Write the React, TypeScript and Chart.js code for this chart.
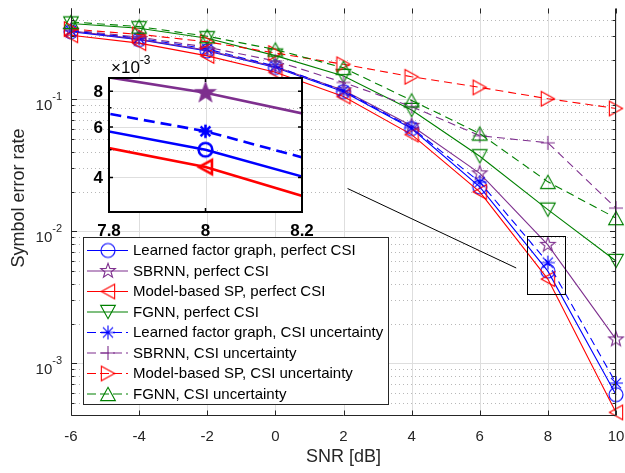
import React, { useEffect, useRef } from "react";
import { Chart, registerables } from "chart.js";
Chart.register(...registerables);

// ---------- data ----------
const snr = [-6, -4, -2, 0, 2, 4, 6, 8, 10];
const lfgPerfect = [0.325, 0.283, 0.232, 0.174, 0.114, 0.06, 0.0217, 0.005, 0.00058];
const sbrnnPerfect = [0.33, 0.285, 0.235, 0.176, 0.117, 0.063, 0.0275, 0.0079, 0.00152];
const mbspPerfect = [0.305, 0.266, 0.213, 0.16, 0.105, 0.054, 0.0199, 0.00435, 0.000426];
const fgnnPerfect = [0.375, 0.345, 0.29, 0.214, 0.15, 0.083, 0.037, 0.0146, 0.00596];
const lfgUncertain = [0.33, 0.29, 0.24, 0.178, 0.116, 0.061, 0.0236, 0.0058, 0.00071];
const sbrnnUncertain = [0.335, 0.295, 0.248, 0.195, 0.134, 0.088, 0.053, 0.0468, 0.015];
const mbspUncertain = [0.34, 0.31, 0.272, 0.224, 0.184, 0.148, 0.123, 0.101, 0.0852];
const fgnnUncertain = [0.385, 0.355, 0.3, 0.238, 0.173, 0.098, 0.055, 0.0237, 0.0126];

const seriesLabels = [
  "Learned factor graph, perfect CSI",
  "SBRNN, perfect CSI",
  "Model-based SP, perfect CSI",
  "FGNN, perfect CSI",
  "Learned factor graph, CSI uncertainty",
  "SBRNN, CSI uncertainty",
  "Model-based SP, CSI uncertainty",
  "FGNN, CSI uncertainty",
];
const seriesValues = [
  lfgPerfect, sbrnnPerfect, mbspPerfect, fgnnPerfect,
  lfgUncertain, sbrnnUncertain, mbspUncertain, fgnnUncertain,
];
const seriesColors = ["#0000ff", "#7e2f8e", "#ff0000", "#008000", "#0000ff", "#7e2f8e", "#ff0000", "#008000"];
const seriesDashed = [false, false, false, false, true, true, true, true];
const seriesMarkers = ["circle", "pentagram", "triLeft", "triDown", "asterisk", "plus", "triRight", "triUp"];

const xTicks = [-6, -4, -2, 0, 2, 4, 6, 8, 10];
const xTickLabels = ["-6", "-4", "-2", "0", "2", "4", "6", "8", "10"];
const yMajorTicks = [1e-3, 1e-2, 1e-1];
const yTickExponents = ["-3", "-2", "-1"];
const xTitle = "SNR [dB]";
const yTitle = "Symbol error rate";

const insetXTicks = [7.8, 8, 8.2];
const insetXTickLabels = ["7.8", "8", "8.2"];
const insetYTicks = [4e-3, 6e-3, 8e-3];
const insetYTickLabels = ["4", "6", "8"];
const insetYMinor = [3e-3, 5e-3, 7e-3, 9e-3];
const insetExponent = "-3";

// zoom box and connector (data coordinates)
const zoomBoxX = [7.38, 8.51];
const zoomBoxY = [3.35e-3, 9.2e-3];
const connectorX = [2.12, 7.07];
const connectorY = [0.0211, 0.00528];

const FONT = "'Liberation Sans', Arial, Helvetica, sans-serif";
const AXIS_COLOR = "#262626";

function makeMarker(kind: string, color: string, r: number, lw: number, fill: boolean) {
  const size = Math.ceil(2 * r + lw + 6);
  const c = document.createElement("canvas");
  c.width = size;
  c.height = size;
  const g = c.getContext("2d")!;
  const cx = size / 2, cy = size / 2;
  g.strokeStyle = color;
  g.fillStyle = color;
  g.lineWidth = lw;
  g.lineJoin = "miter";
  g.beginPath();
  const w = r * 1.05, h = r * 0.95;
  switch (kind) {
    case "circle":
      g.arc(cx, cy, r, 0, Math.PI * 2);
      break;
    case "pentagram":
      for (let k = 0; k < 10; k++) {
        const rr = k % 2 === 0 ? r * 1.1 : r * 0.45;
        const a = -Math.PI / 2 + (k * Math.PI) / 5;
        const px = cx + rr * Math.cos(a), py = cy + rr * Math.sin(a);
        if (k === 0) g.moveTo(px, py); else g.lineTo(px, py);
      }
      g.closePath();
      break;
    case "triUp":
      g.moveTo(cx, cy - h); g.lineTo(cx + w, cy + h); g.lineTo(cx - w, cy + h); g.closePath();
      break;
    case "triDown":
      g.moveTo(cx, cy + h); g.lineTo(cx + w, cy - h); g.lineTo(cx - w, cy - h); g.closePath();
      break;
    case "triLeft":
      g.moveTo(cx - h, cy); g.lineTo(cx + h, cy - w); g.lineTo(cx + h, cy + w); g.closePath();
      break;
    case "triRight":
      g.moveTo(cx + h, cy); g.lineTo(cx - h, cy - w); g.lineTo(cx - h, cy + w); g.closePath();
      break;
    case "asterisk": {
      const d = r * 0.72;
      g.moveTo(cx - r, cy); g.lineTo(cx + r, cy);
      g.moveTo(cx, cy - r); g.lineTo(cx, cy + r);
      g.moveTo(cx - d, cy - d); g.lineTo(cx + d, cy + d);
      g.moveTo(cx - d, cy + d); g.lineTo(cx + d, cy - d);
      break;
    }
    case "plus":
      g.moveTo(cx - r, cy); g.lineTo(cx + r, cy);
      g.moveTo(cx, cy - r); g.lineTo(cx, cy + r);
      break;
  }
  if (fill) g.fill();
  g.stroke();
  return c;
}

function buildDatasets(markers: HTMLCanvasElement[], inset: boolean) {
  return seriesValues.map((vals, i) => ({
    label: seriesLabels[i],
    data: snr.map((x, j) => ({ x, y: vals[j] })),
    borderColor: seriesColors[i],
    backgroundColor: seriesColors[i],
    borderWidth: inset ? 2.6 : 1.1,
    borderDash: seriesDashed[i] ? (inset ? [11, 6] : [8, 5]) : [],
    pointStyle: markers[i] as any,
    pointRadius: 7,
    pointHoverRadius: 7,
    tension: 0,
    fill: false,
    clip: inset ? 0 : (false as any),
    order: seriesValues.length - i,
  }));
}

function crisp(v: number) {
  return Math.round(v) + 0.5;
}

export default function App() {
  const mainRef = useRef<HTMLCanvasElement>(null);
  const insetRef = useRef<HTMLCanvasElement>(null);

  useEffect(() => {
    document.body.style.margin = "0";
    const mainMarkers = seriesMarkers.map((m, i) => makeMarker(m, seriesColors[i], 7, 1.1, false));
    const insetMarkers = seriesMarkers.map((m, i) =>
      makeMarker(m, seriesColors[i], m === "pentagram" ? 7.5 : 6.8, 2.6, m === "pentagram")
    );

    const mainDecor = {
      id: "mainDecor",
      beforeDraw(chart: any) {
        const ctx = chart.ctx;
        ctx.save();
        ctx.fillStyle = "#ffffff";
        ctx.fillRect(0, 0, chart.width, chart.height);
        ctx.restore();
      },
      beforeDatasetsDraw(chart: any) {
        const { ctx, chartArea: a, scales } = chart;
        const xs = scales.x, ys = scales.y;
        ctx.save();
        ctx.strokeStyle = "#dedede";
        ctx.lineWidth = 1;
        xTicks.forEach((t) => {
          const px = crisp(xs.getPixelForValue(t));
          ctx.beginPath(); ctx.moveTo(px, a.top); ctx.lineTo(px, a.bottom); ctx.stroke();
        });
        for (let e = -4; e <= -1; e++) {
          for (let m = 1; m <= 9; m++) {
            const v = m * Math.pow(10, e);
            if (v <= ys.min * 1.0001 || v >= ys.max) continue;
            const py = crisp(ys.getPixelForValue(v));
            ctx.beginPath();
            if (m === 1) {
              ctx.setLineDash([]);
              ctx.strokeStyle = "#dedede";
            } else {
              ctx.setLineDash([1, 3]);
              ctx.strokeStyle = "#b8b8b8";
            }
            ctx.moveTo(a.left, py); ctx.lineTo(a.right, py); ctx.stroke();
          }
        }
        ctx.restore();
      },
      afterDatasetsDraw(chart: any) {
        const { ctx, chartArea: a, scales } = chart;
        const xs = scales.x, ys = scales.y;
        ctx.save();
        ctx.strokeStyle = AXIS_COLOR;
        ctx.lineWidth = 1;
        ctx.setLineDash([]);
        const L = crisp(a.left), R = crisp(a.right) - 1, T = crisp(a.top), B = crisp(a.bottom) - 1;
        ctx.beginPath();
        ctx.moveTo(L, T); ctx.lineTo(L, B); ctx.lineTo(R, B); ctx.lineTo(R, T);
        ctx.stroke();
        xTicks.forEach((t) => {
          const px = crisp(xs.getPixelForValue(t));
          ctx.beginPath();
          ctx.moveTo(px, B); ctx.lineTo(px, B - 5);
          ctx.moveTo(px, T); ctx.lineTo(px, T + 5);
          ctx.stroke();
        });
        for (let e = -4; e <= -1; e++) {
          for (let m = 1; m <= 9; m++) {
            const v = m * Math.pow(10, e);
            if (v <= ys.min * 1.0001 || v >= ys.max) continue;
            const py = crisp(ys.getPixelForValue(v));
            const len = m === 1 ? 5.5 : 3;
            ctx.beginPath();
            ctx.moveTo(L, py); ctx.lineTo(L + len, py);
            ctx.moveTo(R, py); ctx.lineTo(R - len, py);
            ctx.stroke();
          }
        }
        ctx.fillStyle = AXIS_COLOR;
        ctx.font = `15px ${FONT}`;
        ctx.textAlign = "center";
        ctx.textBaseline = "middle";
        xTicks.forEach((t, i) => {
          ctx.fillText(xTickLabels[i], xs.getPixelForValue(t), 437);
        });
        yMajorTicks.forEach((t, i) => {
          const py = ys.getPixelForValue(t);
          ctx.textBaseline = "alphabetic";
          ctx.textAlign = "left";
          ctx.font = `11px ${FONT}`;
          const sw = ctx.measureText(yTickExponents[i]).width;
          ctx.font = `15px ${FONT}`;
          const bw = ctx.measureText("10").width;
          const right = 62;
          ctx.fillText("10", right - sw - bw, py + 10.5);
          ctx.font = `11px ${FONT}`;
          ctx.fillText(yTickExponents[i], right - sw, py + 1);
        });
        ctx.font = `18px ${FONT}`;
        ctx.textAlign = "center";
        ctx.textBaseline = "middle";
        ctx.fillText(xTitle, (a.left + a.right) / 2, 457);
        ctx.save();
        ctx.translate(19, 198);
        ctx.rotate(-Math.PI / 2);
        ctx.fillText(yTitle, 0, 0);
        ctx.restore();
        ctx.strokeStyle = "#000000";
        ctx.lineWidth = 1;
        const bx0 = crisp(xs.getPixelForValue(zoomBoxX[0]));
        const bx1 = crisp(xs.getPixelForValue(zoomBoxX[1]));
        const by0 = crisp(ys.getPixelForValue(zoomBoxY[1]));
        const by1 = crisp(ys.getPixelForValue(zoomBoxY[0]));
        ctx.strokeRect(bx0, by0, bx1 - bx0, by1 - by0);
        ctx.beginPath();
        ctx.moveTo(xs.getPixelForValue(connectorX[0]), ys.getPixelForValue(connectorY[0]));
        ctx.lineTo(xs.getPixelForValue(connectorX[1]), ys.getPixelForValue(connectorY[1]));
        ctx.stroke();
        const lx0 = 83.5, lx1 = 388.5, ly0 = 237.5, ly1 = 404.5;
        ctx.fillStyle = "#ffffff";
        ctx.fillRect(lx0, ly0, lx1 - lx0, ly1 - ly0);
        ctx.strokeStyle = AXIS_COLOR;
        ctx.strokeRect(lx0, ly0, lx1 - lx0, ly1 - ly0);
        ctx.font = `15px ${FONT}`;
        ctx.textAlign = "left";
        ctx.textBaseline = "middle";
        seriesLabels.forEach((lab, i) => {
          const yc = 250.5 + i * 20.5;
          ctx.strokeStyle = seriesColors[i];
          ctx.lineWidth = 1.1;
          ctx.setLineDash(seriesDashed[i] ? [9, 4] : []);
          ctx.beginPath();
          ctx.moveTo(87, yc); ctx.lineTo(128, yc); ctx.stroke();
          ctx.setLineDash([]);
          const mk = mainMarkers[i];
          ctx.drawImage(mk, 108 - mk.width / 2, yc - mk.height / 2);
          ctx.fillStyle = "#000000";
          ctx.fillText(lab, 133, yc + 0.5);
        });
        ctx.restore();
      },
    };

    const insetDecor = {
      id: "insetDecor",
      beforeDatasetsDraw(chart: any) {
        const { ctx, chartArea: a, scales } = chart;
        const xs = scales.x, ys = scales.y;
        ctx.save();
        ctx.fillStyle = "#ffffff";
        ctx.fillRect(a.left, a.top, a.right - a.left, a.bottom - a.top);
        ctx.lineWidth = 1;
        ctx.strokeStyle = "#dedede";
        insetXTicks.forEach((t) => {
          const px = crisp(xs.getPixelForValue(t));
          ctx.beginPath(); ctx.moveTo(px, a.top); ctx.lineTo(px, a.bottom); ctx.stroke();
        });
        insetYTicks.forEach((t) => {
          const py = crisp(ys.getPixelForValue(t));
          ctx.beginPath(); ctx.moveTo(a.left, py); ctx.lineTo(a.right, py); ctx.stroke();
        });
        ctx.setLineDash([1, 3]);
        ctx.strokeStyle = "#b8b8b8";
        insetYMinor.forEach((t) => {
          if (t <= ys.min || t >= ys.max) return;
          const py = crisp(ys.getPixelForValue(t));
          ctx.beginPath(); ctx.moveTo(a.left, py); ctx.lineTo(a.right, py); ctx.stroke();
        });
        ctx.restore();
      },
      afterDatasetsDraw(chart: any) {
        const { ctx, chartArea: a, scales } = chart;
        const xs = scales.x, ys = scales.y;
        ctx.save();
        ctx.strokeStyle = "#000000";
        ctx.lineWidth = 2;
        ctx.strokeRect(a.left, a.top, a.right - a.left, a.bottom - a.top);
        ctx.lineWidth = 1.5;
        insetXTicks.forEach((t) => {
          const px = xs.getPixelForValue(t);
          ctx.beginPath();
          ctx.moveTo(px, a.bottom); ctx.lineTo(px, a.bottom - 4);
          ctx.moveTo(px, a.top); ctx.lineTo(px, a.top + 4);
          ctx.stroke();
        });
        insetYTicks.forEach((t) => {
          const py = ys.getPixelForValue(t);
          ctx.beginPath();
          ctx.moveTo(a.left, py); ctx.lineTo(a.left + 4, py);
          ctx.moveTo(a.right, py); ctx.lineTo(a.right - 4, py);
          ctx.stroke();
        });
        insetYMinor.forEach((t) => {
          if (t <= ys.min || t >= ys.max) return;
          const py = ys.getPixelForValue(t);
          ctx.beginPath();
          ctx.moveTo(a.left, py); ctx.lineTo(a.left + 2.5, py);
          ctx.moveTo(a.right, py); ctx.lineTo(a.right - 2.5, py);
          ctx.stroke();
        });
        ctx.fillStyle = "#000000";
        ctx.font = `bold 17px ${FONT}`;
        ctx.textAlign = "center";
        ctx.textBaseline = "middle";
        insetXTicks.forEach((t, i) => {
          ctx.fillText(insetXTickLabels[i], xs.getPixelForValue(t), 231);
        });
        ctx.textAlign = "right";
        insetYTicks.forEach((t, i) => {
          ctx.fillText(insetYTickLabels[i], a.left - 6, ys.getPixelForValue(t) + 1);
        });
        ctx.textAlign = "left";
        ctx.textBaseline = "alphabetic";
        ctx.font = `17px ${FONT}`;
        ctx.fillText("\u00d710", a.left + 2, 73);
        const w = ctx.measureText("\u00d710").width;
        ctx.font = `12px ${FONT}`;
        ctx.fillText(insetExponent, a.left + 2 + w, 64);
        ctx.restore();
      },
    };

    const main = new Chart(mainRef.current!, {
      type: "line",
      data: { datasets: buildDatasets(mainMarkers, false) as any },
      options: {
        animation: false,
        responsive: false,
        devicePixelRatio: 1,
        events: [],
        layout: { padding: { left: 71, right: 9, top: 0, bottom: 57 } },
        plugins: { legend: { display: false }, tooltip: { enabled: false } },
        scales: {
          x: { type: "linear", min: -6, max: 10, display: false },
          y: { type: "logarithmic", min: 4e-4, max: 0.49, display: false },
        },
      },
      plugins: [mainDecor],
    });

    const inset = new Chart(insetRef.current!, {
      type: "line",
      data: { datasets: buildDatasets(insetMarkers, true) as any },
      options: {
        animation: false,
        responsive: false,
        devicePixelRatio: 1,
        events: [],
        layout: { padding: { left: 109, right: 323, top: 78, bottom: 261 } },
        plugins: { legend: { display: false }, tooltip: { enabled: false } },
        scales: {
          x: { type: "linear", min: 7.8, max: 8.2, display: false },
          y: { type: "logarithmic", min: 3.03e-3, max: 8.9e-3, display: false },
        },
      },
      plugins: [insetDecor],
    });

    return () => {
      main.destroy();
      inset.destroy();
    };
  }, []);

  return (
    <div style={{ position: "relative", width: 625, height: 473 }}>
      <canvas ref={mainRef} width={625} height={473} style={{ position: "absolute", left: 0, top: 0 }} />
      <canvas ref={insetRef} width={625} height={473} style={{ position: "absolute", left: 0, top: 0 }} />
    </div>
  );
}
